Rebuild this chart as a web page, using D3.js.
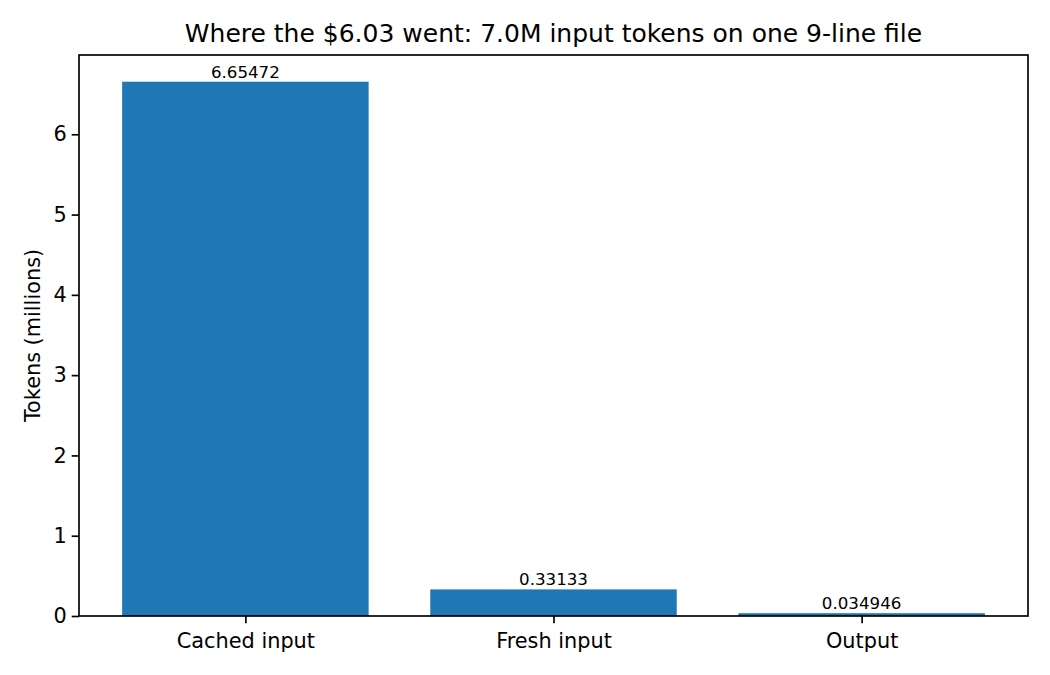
<!DOCTYPE html>
<html><head><meta charset="utf-8">
<script src="https://cdn.jsdelivr.net/npm/d3@7"></script>
<style>body{margin:0;background:#fff}svg{display:block}text{font-family:"DejaVu Sans",sans-serif;fill:#000}</style>
</head><body><svg id="c" width="1050" height="675"></svg>
<script>
const categories = ["Cached input", "Fresh input", "Output"];
const values = [6.65472, 0.33133, 0.034946];
const labels = ["6.65472", "0.33133", "0.034946"];
const yTicks = [0, 1, 2, 3, 4, 5, 6];
const title = "Where the $6.03 went: 7.0M input tokens on one 9-line file";
const yTitle = "Tokens (millions)";

const W = 1050, H = 675;
const m = {l: 79, r: 1028, t: 55, b: 616};
const svg = d3.select("#c");
const ymax = d3.max(values) * 1.05;
const y = d3.scaleLinear().domain([0, ymax]).range([m.b, m.t]);
const x = d3.scaleLinear().domain([-0.54, categories.length - 1 + 0.54]).range([m.l, m.r]);
const bw = 0.8;

svg.append("g").selectAll("rect").data(values).join("rect")
  .attr("x", (d, i) => x(i - bw / 2)).attr("width", (d, i) => x(i + bw / 2) - x(i - bw / 2))
  .attr("y", d => y(d)).attr("height", d => y(0) - y(d)).attr("fill", "#1f77b4");

svg.append("g").selectAll("text").data(values).join("text")
  .attr("x", (d, i) => x(i)).attr("y", d => y(d) - 4)
  .attr("text-anchor", "middle").attr("font-size", "16.67px")
  .text((d, i) => labels[i]);

const ax = svg.append("g").attr("transform", `translate(0,${m.b})`)
  .call(d3.axisBottom(x).tickValues(d3.range(categories.length)).tickFormat(i => categories[i]).tickSize(7.3).tickPadding(5));
const ay = svg.append("g").attr("transform", `translate(${m.l},0)`)
  .call(d3.axisLeft(y).tickValues(yTicks).tickFormat(d3.format("d")).tickSize(7.3).tickPadding(5));
[ax, ay].forEach(g => {
  g.select(".domain").remove();
  g.selectAll(".tick line").attr("stroke", "#000").attr("stroke-width", 1.67);
  g.selectAll(".tick text").attr("font-size", "20.83px").attr("font-family", "DejaVu Sans").attr("fill", "#000");
});
ax.selectAll(".tick text").attr("dy", "0.95em");

svg.append("rect").attr("x", m.l).attr("y", m.t).attr("width", m.r - m.l).attr("height", m.b - m.t)
  .attr("fill", "none").attr("stroke", "#000").attr("stroke-width", 1.67);

svg.append("text").attr("x", (m.l + m.r) / 2).attr("y", 42).attr("text-anchor", "middle")
  .attr("font-size", "25px").text(title);
svg.append("text").attr("transform", `translate(40,${(m.t + m.b) / 2}) rotate(-90)`)
  .attr("text-anchor", "middle").attr("font-size", "20.83px").text(yTitle);
</script></body></html>
